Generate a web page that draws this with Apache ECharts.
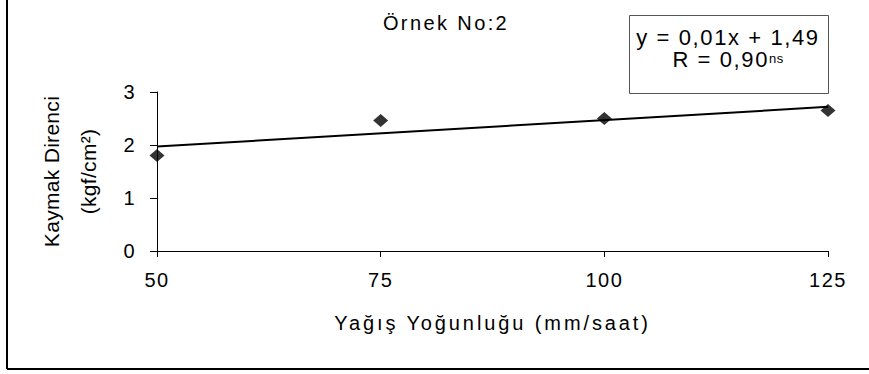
<!DOCTYPE html>
<html>
<head>
<meta charset="utf-8">
<script src="https://cdn.jsdelivr.net/npm/echarts@6/dist/echarts.min.js"></script>
<style>
html,body{margin:0;padding:0;background:#fff;}
#chart{width:869px;height:374px;}
</style>
</head>
<body>
<div id="chart"></div>
<script>
const titleText = 'Örnek No:2';
const xAxisName = 'Yağış Yoğunluğu (mm/saat)';
const yAxisName = 'Kaymak Direnci\n(kgf/cm²)';
const xValues = [50, 75, 100, 125];
const yValues = [1.80, 2.46, 2.50, 2.65];
const trendX = [50, 125];
const trendY = [1.97, 2.72];
const equationLine1 = 'y = 0,01x + 1,49';
const equationLine2 = 'R = 0,90';
const equationSup = 'ns';

const FONT = '"Liberation Sans", Arial, sans-serif';
const chart = echarts.init(document.getElementById('chart'), null, {renderer: 'svg'});
const option = {
  animation: false,
  backgroundColor: '#fff',
  title: {
    text: titleText, left: 441, top: 7.5, textAlign: 'center',
    textStyle: {fontFamily: FONT, fontSize: 20, fontWeight: 'normal', color: '#000'}
  },
  grid: {left: 157, right: 41, top: 92, bottom: 123},
  xAxis: {
    type: 'value', min: 50, max: 125, interval: 25,
    name: xAxisName, nameLocation: 'middle', nameGap: 72,
    nameTextStyle: {fontFamily: FONT, fontSize: 20, color: '#000', verticalAlign: 'middle'},
    axisLine: {show: true, lineStyle: {color: '#000', width: 1}},
    axisTick: {show: true, inside: false, length: 6, lineStyle: {color: '#000'}},
    axisLabel: {fontFamily: FONT, fontSize: 20, color: '#000', margin: 19},
    splitLine: {show: false}
  },
  yAxis: {
    type: 'value', min: 0, max: 3, interval: 1,
    name: yAxisName, nameLocation: 'middle', nameGap: 87, nameRotate: 90,
    nameTextStyle: {fontFamily: FONT, fontSize: 21, color: '#000', verticalAlign: 'middle', lineHeight: 37, align: 'center'},
    axisLine: {show: true, lineStyle: {color: '#000', width: 1}},
    axisTick: {show: true, inside: false, length: 7, lineStyle: {color: '#000'}},
    axisLabel: {fontFamily: FONT, fontSize: 20, color: '#000', margin: 21},
    splitLine: {show: false}
  },
  series: [
    {
      type: 'line',
      data: trendX.map((x, i) => [x, trendY[i]]),
      symbol: 'none',
      lineStyle: {color: '#000', width: 2},
      z: 2
    },
    {
      type: 'scatter',
      data: xValues.map((x, i) => [x, yValues[i]]),
      symbol: 'diamond',
      symbolSize: [15, 13],
      itemStyle: {color: '#000'},
      z: 3
    }
  ],
  graphic: [
    {type: 'line', shape: {x1: 7, y1: 0, x2: 7, y2: 369}, style: {stroke: '#000', lineWidth: 2}},
    {type: 'line', shape: {x1: 7, y1: 369, x2: 869, y2: 369}, style: {stroke: '#000', lineWidth: 2}},
    {type: 'rect', shape: {x: 629.5, y: 15.5, width: 199, height: 78}, style: {fill: '#fff', stroke: '#555', lineWidth: 1}},
    {type: 'text', x: 728, y: 37, style: {text: equationLine1, font: '22px ' + FONT, fill: '#000', align: 'center', verticalAlign: 'middle'}},
    {type: 'text', x: 769, y: 59.7, style: {text: equationLine2, font: '22px ' + FONT, fill: '#000', align: 'right', verticalAlign: 'middle'}},
    {type: 'text', x: 769, y: 58.8, style: {text: equationSup, font: '13px ' + FONT, fill: '#000', align: 'left', verticalAlign: 'middle'}}
  ]
};
chart.setOption(option);

// character spacing of the reference's text
const spacing = {};
spacing[titleText] = 2.4;
spacing[xAxisName] = 2.9;
spacing[equationLine1] = 1.6;
spacing[equationLine2] = 1.6;
spacing[equationSup] = 0.5;
spacing['Kaymak Direnci'] = 0.3;
spacing['(kgf/cm²)'] = 0.3;
document.querySelectorAll('#chart svg text').forEach(t => {
  const s = t.textContent;
  let v = spacing[s];
  if (v === undefined && /^\d+$/.test(s)) v = 1.5;
  if (v) t.setAttribute('letter-spacing', v + 'px');
});
</script>
</body>
</html>
